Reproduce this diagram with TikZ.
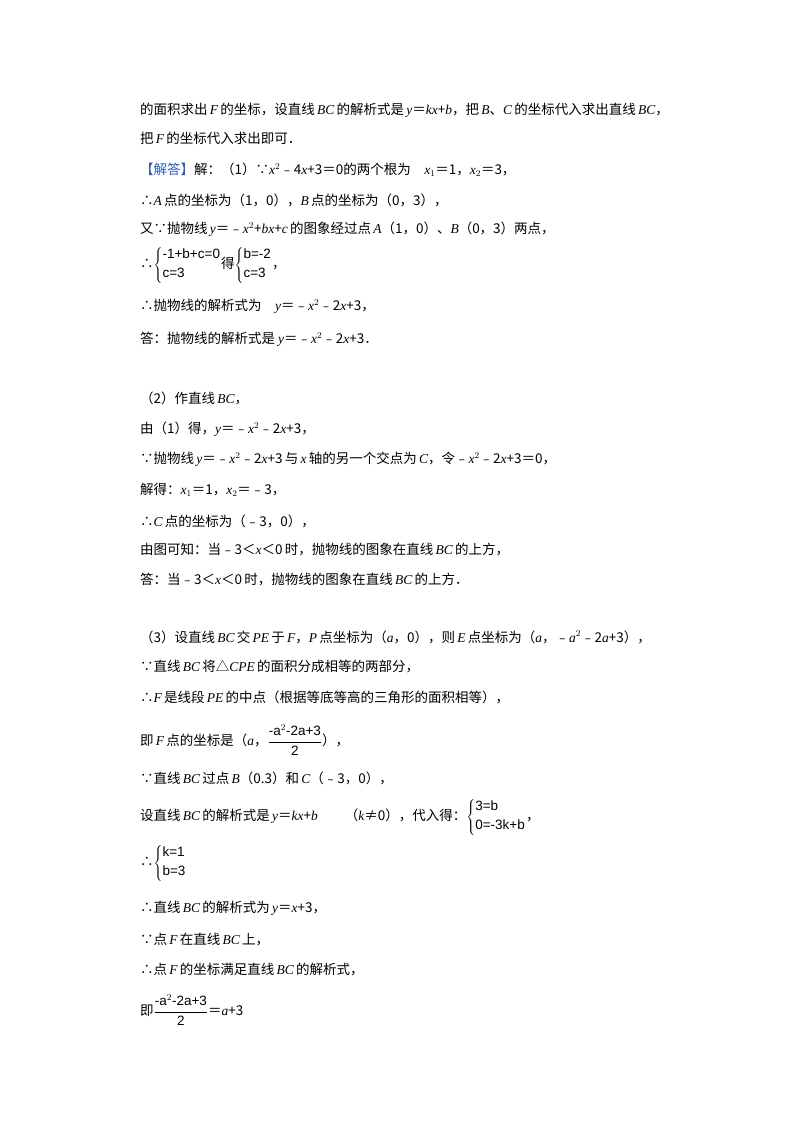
\documentclass[tikz,border=0pt]{standalone}
\usepackage{fontspec}
\setmainfont{Noto Sans CJK SC}
\newfontfamily\lser{Liberation Serif}
\newfontfamily\sanf{Liberation Sans}
\newcommand{\m}[1]{{\lser #1}}
\newcommand{\vi}[1]{{\lser\itshape #1}}
\newcommand{\sq}{\m{$^2$}}
\begin{document}
\begin{tikzpicture}[x=1pt,y=1pt,ln/.style={anchor=west,inner sep=0pt,font=\fontsize{13.5}{16}\selectfont}]
\useasboundingbox (0,0) rectangle (800,-1132);
\node[ln] (l1) at (140,-110) {的面积求出\,\vi{F}\,的坐标，设直线\,\vi{BC}\,的解析式是\,\vi{y}＝\vi{kx}+\vi{b}，把\,\vi{B}、\vi{C}\,的坐标代入求出直线\,\vi{BC}，};
\node[ln] (l2) at (140,-138) {把\,\vi{F}\,的坐标代入求出即可．};
\node[ln] (l3) at (140,-170) {\textcolor[RGB]{40,90,200}{【解答】}解：（1）∵\vi{x}\sq﹣4\vi{x}+3＝0的两个根为\quad\vi{x}\m{$_1$}＝1，\vi{x}\m{$_2$}＝3，};
\node[ln] (l4) at (140,-200) {∴\vi{A}\,点的坐标为（1，0），\vi{B}\,点的坐标为（0，3），};
\node[ln] (l5) at (140,-229) {又∵抛物线\,\vi{y}＝﹣\vi{x}\sq+\vi{bx}+\vi{c}\,的图象经过点\,\vi{A}（1，0）、\vi{B}（0，3）两点，};
\node[ln] (l6) at (140,-265) {∴$\left\{\begin{array}{@{}l@{}}\hbox{\sanf -1+b+c=0}\\[3pt]\hbox{\sanf c=3}\end{array}\right.$得$\left\{\begin{array}{@{}l@{}}\hbox{\sanf b=-2}\\[3pt]\hbox{\sanf c=3}\end{array}\right.$，};
\node[ln] (l7) at (140,-306) {∴抛物线的解析式为\quad\vi{y}＝﹣\vi{x}\sq﹣2\vi{x}+3，};
\node[ln] (l8) at (140,-339) {答：抛物线的解析式是\ \vi{y}＝﹣\vi{x}\sq﹣2\vi{x}+3．};
\node[ln] (l9) at (140,-398) {（2）作直线\,\vi{BC}，};
\node[ln] (l10) at (140,-429) {由（1）得，\vi{y}＝﹣\vi{x}\sq﹣2\vi{x}+3，};
\node[ln] (l11) at (140,-459) {∵抛物线\,\vi{y}＝﹣\vi{x}\sq﹣2\vi{x}+3\,与\,\vi{x}\,轴的另一个交点为\,\vi{C}，令﹣\vi{x}\sq﹣2\vi{x}+3＝0，};
\node[ln] (l12) at (140,-490) {解得：\vi{x}\m{$_1$}＝1，\vi{x}\m{$_2$}＝﹣3，};
\node[ln] (l13) at (140,-521) {∴\vi{C}\,点的坐标为（﹣3，0），};
\node[ln] (l14) at (140,-550) {由图可知：当﹣3＜\vi{x}＜0\,时，抛物线的图象在直线\,\vi{BC}\,的上方，};
\node[ln] (l15) at (140,-580) {答：当﹣3＜\vi{x}＜0\,时，抛物线的图象在直线\,\vi{BC}\,的上方．};
\node[ln] (l16) at (140,-637) {（3）设直线\,\vi{BC}\,交\,\vi{PE}\,于\,\vi{F}，\vi{P}\,点坐标为（\vi{a}，0），则\,\vi{E}\,点坐标为（\vi{a}，﹣\vi{a}\sq﹣2\vi{a}+3），};
\node[ln] (l17) at (140,-667) {∵直线\,\vi{BC}\,将△\vi{CPE}\,的面积分成相等的两部分，};
\node[ln] (l18) at (140,-697) {∴\vi{F}\,是线段\,\vi{PE}\,的中点（根据等底等高的三角形的面积相等），};
\node[ln] (l19) at (140,-740) {即\,\vi{F}\,点的坐标是（\vi{a}，$\displaystyle{\hbox{\sanf -a$^2$-2a+3}\over\hbox{\sanf 2}}$），};
\node[ln] (l20) at (140,-778) {∵直线\,\vi{BC}\,过点\,\vi{B}（0.3）和\,\vi{C}（﹣3，0），};
\node[ln] (l21) at (140,-817) {设直线\,\vi{BC}\,的解析式是\,\vi{y}＝\vi{kx}+\vi{b}\qquad（\vi{k}≠0），代入得：$\left\{\begin{array}{@{}l@{}}\hbox{\sanf 3=b}\\[3pt]\hbox{\sanf 0=-3k+b}\end{array}\right.$，};
\node[ln] (l22) at (140,-863) {∴$\left\{\begin{array}{@{}l@{}}\hbox{\sanf k=1}\\[3pt]\hbox{\sanf b=3}\end{array}\right.$};
\node[ln] (l23) at (140,-908) {∴直线\,\vi{BC}\,的解析式为\,\vi{y}＝\vi{x}+3，};
\node[ln] (l24) at (140,-940) {∵点\,\vi{F}\,在直线\,\vi{BC}\,上，};
\node[ln] (l25) at (140,-970) {∴点\,\vi{F}\,的坐标满足直线\,\vi{BC}\,的解析式，};
\node[ln] (l26) at (140,-1010) {即$\displaystyle{\hbox{\sanf -a$^2$-2a+3}\over\hbox{\sanf 2}}$＝\vi{a}+3};
\end{tikzpicture}
\end{document}
